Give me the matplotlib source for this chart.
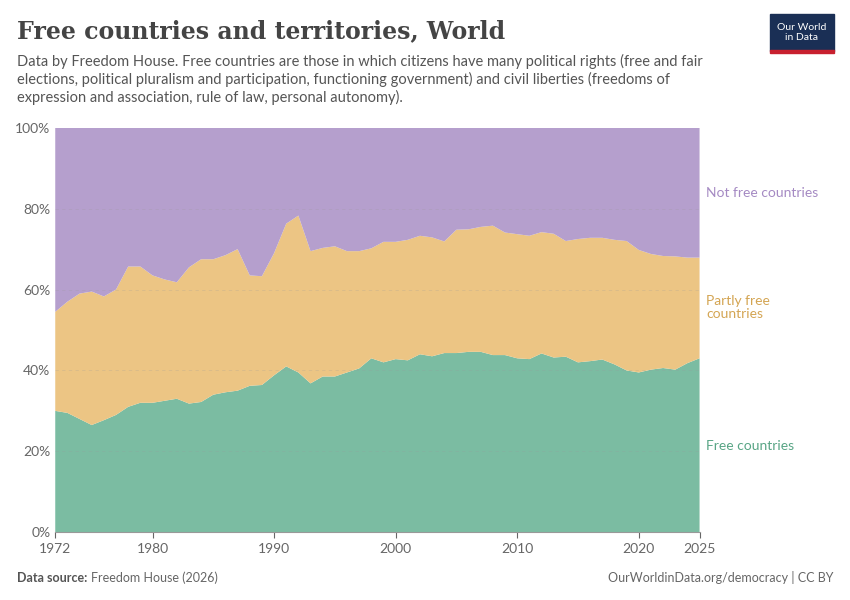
import numpy as np
import matplotlib.pyplot as plt
from matplotlib.ticker import FuncFormatter

plt.rcParams['font.family'] = ['Lato', 'DejaVu Sans']

years = np.arange(1972, 2026)
free = [30, 29.5, 28, 26.5, 27.7, 29, 31, 32, 32, 32.5, 33, 31.8, 32.2, 34, 34.6, 35, 36.2, 36.4,
        38.8, 41, 39.5, 36.8, 38.5, 38.5, 39.5, 40.5, 43, 42, 42.8, 42.5, 44, 43.5, 44.3, 44.3,
        44.6, 44.6, 43.8, 43.8, 43, 42.8, 44.2, 43.2, 43.4, 42, 42.3, 42.7, 41.5, 40, 39.5, 40.2,
        40.6, 40.2, 41.8, 43]
free_or_partly = [54.5, 57, 59, 59.5, 58.3, 60, 65.7, 65.7, 63.5, 62.5, 61.8, 65.5, 67.5, 67.5,
                  68.5, 70, 63.5, 63.3, 69, 76.3, 78.3, 69.5, 70.3, 70.7, 69.5, 69.5, 70.2, 71.8,
                  71.8, 72.3, 73.3, 72.9, 71.9, 74.8, 74.9, 75.5, 75.8, 74.1, 73.7, 73.3, 74.2,
                  73.8, 72, 72.5, 72.8, 72.8, 72.3, 72, 69.8, 68.8, 68.3, 68.2, 67.9, 67.9]
free = np.array(free)
partly = np.array(free_or_partly) - free
not_free = 100 - np.array(free_or_partly)

c_free, c_partly, c_not = "#7bbca2", "#ecc584", "#b59fcd"

fig = plt.figure(figsize=(8.5, 6), dpi=100)
ax = fig.add_axes([0.065, 0.113, 0.758, 0.674])
ax.stackplot(years, free, partly, not_free, colors=[c_free, c_partly, c_not], lw=0)
ax.set_xlim(1972, 2025)
ax.set_ylim(0, 100)
ax.set_yticks(range(0, 101, 20))
ax.yaxis.set_major_formatter(FuncFormatter(lambda v, p: f"{int(v)}%"))
ax.set_xticks([1972, 1980, 1990, 2000, 2010, 2020, 2025])
for s in ["top", "right", "left"]:
    ax.spines[s].set_visible(False)
ax.spines["bottom"].set_color("#999")
ax.tick_params(axis="y", length=0, labelsize=10, colors="#666")
ax.tick_params(axis="x", length=4, labelsize=10, colors="#666")
for y in range(20, 100, 20):
    ax.axhline(y, color="#999", lw=0.6, ls=(0, (4, 4)), alpha=0.25)

ax.text(1.01, 0.84, "Not free countries", transform=ax.transAxes, color="#a58ac3", fontsize=10,
        va="center")
ax.text(1.01, 0.555, "Partly free\ncountries", transform=ax.transAxes, color="#d4a553", fontsize=10,
        va="center", linespacing=1.1)
ax.text(1.01, 0.213, "Free countries", transform=ax.transAxes, color="#58a585", fontsize=10,
        va="center")

fig.text(0.02, 0.937, "Free countries and territories, World", fontsize=17, family="DejaVu Serif",
         weight="semibold", color="#444")
fig.text(0.02, 0.83, "Data by Freedom House. Free countries are those in which citizens have many political rights (free and fair\n"
         "elections, political pluralism and participation, functioning government) and civil liberties (freedoms of\n"
         "expression and association, rule of law, personal autonomy).", fontsize=10.5, color="#555",
         linespacing=1.25)
fig.text(0.02, 0.03, "Data source:", fontsize=9, color="#555", weight="bold")
fig.text(0.107, 0.03, "Freedom House (2026)", fontsize=9, color="#666")
fig.text(0.98, 0.03, "OurWorldinData.org/democracy | CC BY", fontsize=9, color="#666", ha="right")

fig.patches.append(plt.Rectangle((0.906, 0.915), 0.075, 0.062, transform=fig.transFigure,
                                 color="#1a2f55"))
fig.patches.append(plt.Rectangle((0.906, 0.912), 0.075, 0.004, transform=fig.transFigure,
                                 color="#c8202f"))
fig.text(0.9435, 0.946, "Our World\nin Data", fontsize=7.5, color="white", ha="center",
         va="center", linespacing=1.1)

fig.savefig("out.png", dpi=100)
